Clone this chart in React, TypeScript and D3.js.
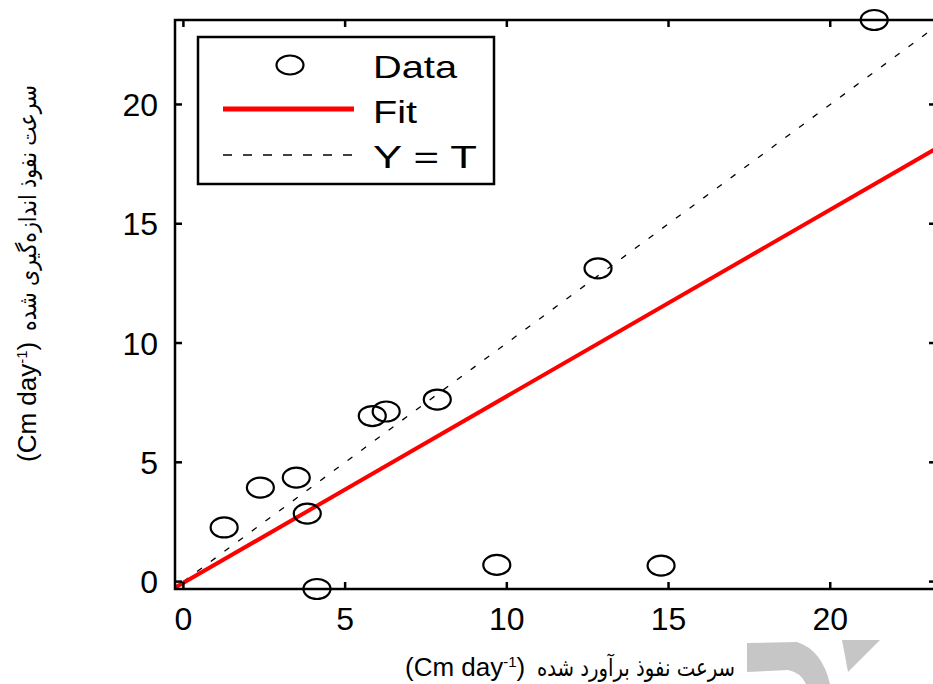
import * as d3 from "d3";

const width = 933;
const height = 684;

// plot frame (right edge runs just past the picture, as in the source)
const left = 175;
const top = 20;
const right = 936;
const bottom = 589;

// estimated (x) vs measured (y) infiltration rate, Cm/day
const estimated = [1.26, 2.38, 3.49, 3.83, 4.13, 5.84, 6.27, 7.85, 9.69, 12.82, 14.77, 21.36];
const measured = [2.27, 3.94, 4.36, 2.85, -0.31, 6.94, 7.13, 7.63, 0.7, 13.13, 0.67, 23.54];

const xTicks = [0, 5, 10, 15, 20];
const yTicks = [0, 5, 10, 15, 20];

const fitSlope = 0.782;
const fitIntercept = -0.05;

const legendLabels = ["Data", "Fit", "Y = T"];

const xTitle = "سرعت نفوذ برآورد شده";
const yTitle = "سرعت نفوذ اندازه‌گیری شده";

const tickFont = "'Liberation Sans', Arial, sans-serif";
const unitFont = "'Liberation Sans Narrow', 'Liberation Sans', sans-serif";
const persianFont = "'DejaVu Sans Condensed', 'DejaVu Sans', sans-serif";

// "(Cm day⁻¹)" part of both titles
const Unit = () => (
  <>
    (Cm day
    <tspan dy={-9} fontSize={15}>
      -1
    </tspan>
    <tspan dy={9}>)</tspan>
  </>
);

const App = () => {
  const xScale = d3.scaleLinear().domain([-0.26, 23.27]).range([left, right]);
  const yScale = d3.scaleLinear().domain([-0.31, 23.54]).range([bottom, top]);
  const [x0, x1] = xScale.domain();

  const line = d3
    .line<[number, number]>()
    .x((d) => xScale(d[0]))
    .y((d) => yScale(d[1]));

  const fitPts: [number, number][] = [x0, x1].map((x) => [x, fitSlope * x + fitIntercept]);
  const idPts: [number, number][] = [
    [0, 0],
    [x1, x1],
  ];

  const tickLen = 7;

  return (
    <svg
      width={width}
      height={height}
      viewBox={`0 0 ${width} ${height}`}
      style={{ position: "absolute", left: 0, top: 0, background: "#fff" }}
    >
      <defs>
        <clipPath id="plot-clip">
          <rect x={left} y={top} width={right - left} height={bottom - top} />
        </clipPath>
      </defs>

      <g clipPath="url(#plot-clip)">
        <path d={line(idPts) ?? ""} fill="none" stroke="#000" strokeWidth={1.3} strokeDasharray="6,11" />
        <path d={line(fitPts) ?? ""} fill="none" stroke="#f00" strokeWidth={4} />
      </g>

      <g className="points">
        {estimated.map((e, i) => (
          <ellipse
            key={i}
            cx={xScale(e)}
            cy={yScale(measured[i])}
            rx={13.5}
            ry={10}
            fill="none"
            stroke="#000"
            strokeWidth={2.2}
          />
        ))}
      </g>

      {/* axes box with inward ticks on every side */}
      <rect
        x={left}
        y={top}
        width={right - left}
        height={bottom - top}
        fill="none"
        stroke="#000"
        strokeWidth={2.5}
      />
      <g className="x-ticks">
        {xTicks.map((t) => (
          <g key={t}>
            <line x1={xScale(t)} x2={xScale(t)} y1={bottom} y2={bottom - tickLen} stroke="#000" strokeWidth={2.5} />
            <line x1={xScale(t)} x2={xScale(t)} y1={top} y2={top + tickLen} stroke="#000" strokeWidth={2.5} />
            <text x={xScale(t)} y={630} textAnchor="middle" fontFamily={tickFont} fontSize={32}>
              {t}
            </text>
          </g>
        ))}
      </g>
      <g className="y-ticks">
        {yTicks.map((t) => (
          <g key={t}>
            <line x1={left} x2={left + tickLen} y1={yScale(t)} y2={yScale(t)} stroke="#000" strokeWidth={2.5} />
            <line x1={right} x2={right - tickLen} y1={yScale(t)} y2={yScale(t)} stroke="#000" strokeWidth={2.5} />
            <text x={158} y={yScale(t) + 11.5} textAnchor="end" fontFamily={tickFont} fontSize={32}>
              {t}
            </text>
          </g>
        ))}
      </g>

      {/* legend */}
      <g className="legend">
        <rect x={198} y={37} width={296} height={147} fill="#fff" stroke="#000" strokeWidth={2.5} />
        <ellipse cx={290} cy={65} rx={13.5} ry={9.5} fill="none" stroke="#000" strokeWidth={2.2} />
        <line x1={223} x2={354} y1={109} y2={109} stroke="#f00" strokeWidth={5} />
        <line x1={223} x2={352} y1={155} y2={155} stroke="#000" strokeWidth={1.5} strokeDasharray="9,11" />
        {legendLabels.map((l, i) => (
          <text
            key={l}
            x={373}
            y={78 + i * 45}
            fontFamily={tickFont}
            fontSize={32}
            textLength={[84, 44, 104][i]}
            lengthAdjust="spacingAndGlyphs"
          >
            {l}
          </text>
        ))}
      </g>

      {/* x title: unit on the left, persian words to its right */}
      <text x={405} y={676} fontFamily={unitFont} fontSize={26}>
        <Unit />
      </text>
      <text
        x={735}
        y={676}
        textAnchor="end"
        fontFamily={persianFont}
        fontSize={24}
        textLength={198}
        lengthAdjust="spacingAndGlyphs"
      >
        {xTitle}
      </text>

      {/* y title, rotated: unit at the bottom, persian words above */}
      <text transform="translate(36,462) rotate(-90)" fontFamily={unitFont} fontSize={26}>
        <Unit />
      </text>
      <text
        transform="translate(36,85) rotate(-90)"
        textAnchor="end"
        fontFamily={persianFont}
        fontSize={24}
        textLength={246}
        lengthAdjust="spacingAndGlyphs"
      >
        {yTitle}
      </text>

      {/* grey watermark in the corner */}
      <g fill="#c6c6c6">
        <path d="M747,643 L797,642 Q822,650 830,684 L806,684 Q800,672 788,670 L747,672 Z" />
        <path d="M842,640 L880,640 L848,672 Z" />
      </g>
    </svg>
  );
};

export default App;
